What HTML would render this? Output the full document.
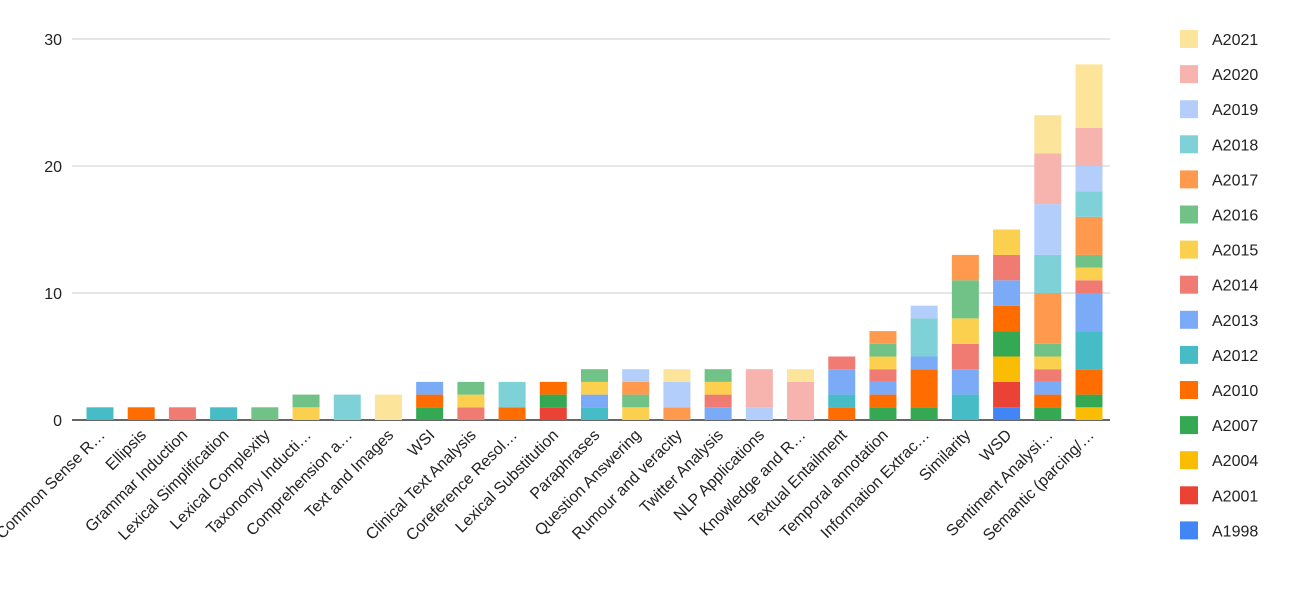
<!DOCTYPE html>
<html><head><meta charset="utf-8"><style>
body{margin:0;background:#fff;font-family:"Liberation Sans",Arial,sans-serif}
svg text{font-family:"Liberation Sans",Arial,sans-serif}
</style></head><body>
<svg id="chart" width="1299" height="594" xmlns="http://www.w3.org/2000/svg"></svg>
<script>
const categories=["Common Sense R…","Ellipsis","Grammar Induction","Lexical Simplification","Lexical Complexity","Taxonomy Inducti…","Comprehension a…","Text and Images","WSI","Clinical Text Analysis","Coreference Resol…","Lexical Substitution","Paraphrases","Question Answering","Rumour and veracity","Twitter Analysis","NLP Applications","Knowledge and R…","Textual Entailment","Temporal annotation","Information Extrac…","Similarity","WSD","Sentiment Analysi…","Semantic (parcing/…"];
const seriesNames=["A1998","A2001","A2004","A2007","A2010","A2012","A2013","A2014","A2015","A2016","A2017","A2018","A2019","A2020","A2021"];
const colors=["#4285f4","#ea4335","#fbbc04","#34a853","#ff6d01","#46bdc6","#7baaf7","#f07b72","#fcd04f","#71c287","#ff994d","#7ed1d7","#b3cefb","#f7b4ae","#fde49b"];
const A1998=[0,0,0,0,0,0,0,0,0,0,0,0,0,0,0,0,0,0,0,0,0,0,1,0,0];
const A2001=[0,0,0,0,0,0,0,0,0,0,0,1,0,0,0,0,0,0,0,0,0,0,2,0,0];
const A2004=[0,0,0,0,0,0,0,0,0,0,0,0,0,0,0,0,0,0,0,0,0,0,2,0,1];
const A2007=[0,0,0,0,0,0,0,0,1,0,0,1,0,0,0,0,0,0,0,1,1,0,2,1,1];
const A2010=[0,1,0,0,0,0,0,0,1,0,1,1,0,0,0,0,0,0,1,1,3,0,2,1,2];
const A2012=[1,0,0,1,0,0,0,0,0,0,0,0,1,0,0,0,0,0,1,0,0,2,0,0,3];
const A2013=[0,0,0,0,0,0,0,0,1,0,0,0,1,0,0,1,0,0,2,1,1,2,2,1,3];
const A2014=[0,0,1,0,0,0,0,0,0,1,0,0,0,0,0,1,0,0,1,1,0,2,2,1,1];
const A2015=[0,0,0,0,0,1,0,0,0,1,0,0,1,1,0,1,0,0,0,1,0,2,2,1,1];
const A2016=[0,0,0,0,1,1,0,0,0,1,0,0,1,1,0,1,0,0,0,1,0,3,0,1,1];
const A2017=[0,0,0,0,0,0,0,0,0,0,0,0,0,1,1,0,0,0,0,1,0,2,0,4,3];
const A2018=[0,0,0,0,0,0,2,0,0,0,2,0,0,0,0,0,0,0,0,0,3,0,0,3,2];
const A2019=[0,0,0,0,0,0,0,0,0,0,0,0,0,1,2,0,1,0,0,0,1,0,0,4,2];
const A2020=[0,0,0,0,0,0,0,0,0,0,0,0,0,0,0,0,3,3,0,0,0,0,0,4,3];
const A2021=[0,0,0,0,0,0,0,2,0,0,0,0,0,0,1,0,0,1,0,0,0,0,0,3,5];
const series=[A1998,A2001,A2004,A2007,A2010,A2012,A2013,A2014,A2015,A2016,A2017,A2018,A2019,A2020,A2021];
const yTicks=[0,10,20,30];
const NS="http://www.w3.org/2000/svg";
const svg=document.getElementById('chart');
const x0=72,x1=1110,y0=420,pxPer=12.7;
const yScale=v=>y0-v*pxPer;
const firstX=100,lastX=1089;
const xCenter=i=>firstX+(lastX-firstX)*i/(categories.length-1);
const bw=27;
function mk(t,a){const e=document.createElementNS(NS,t);for(const k in a)e.setAttribute(k,a[k]);svg.appendChild(e);return e;}
yTicks.forEach(v=>{
  const l=mk('line',{x1:x0,x2:x1,y1:yScale(v),y2:yScale(v),stroke:v===0?'#333':'#ccc','stroke-width':v===0?1.5:1});
  
  
  const t=mk('text',{x:62,y:yScale(v)+6,'text-anchor':'end','font-size':16,fill:'#222'});
  t.textContent=v;
  
  
});
categories.forEach((c,i)=>{
  let acc=0;
  series.forEach((s,j)=>{
    const v=s[i]; if(!v)return;
    const r=mk('rect',{x:xCenter(i)-bw/2,y:yScale(acc+v),width:bw,height:v*pxPer,fill:colors[j]});
    
    
    acc+=v;
  });
  const cx=xCenter(i)+6,cy=436;
  const t=mk('text',{x:cx,y:cy,'text-anchor':'end','font-size':16,fill:'#222',transform:`rotate(-45 ${cx} ${cy})`});
  t.textContent=c;
  
  
});
for(let k=0;k<seriesNames.length;k++){
  const j=seriesNames.length-1-k;
  const y=39+k*35.1;
  const r=mk('rect',{x:1180,y:y-9,width:18,height:18,fill:colors[j]});
  
  
  const t=mk('text',{x:1212,y:y+6,'font-size':16,fill:'#222'});
  t.textContent=seriesNames[j];
  
  
}
</script>
</body></html>
